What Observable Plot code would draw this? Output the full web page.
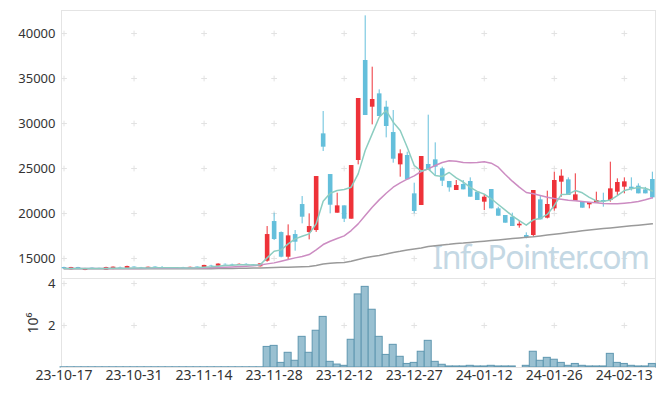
<!DOCTYPE html>
<html><head><meta charset="utf-8">
<script src="https://cdn.jsdelivr.net/npm/d3@7"></script>
<script src="https://cdn.jsdelivr.net/npm/@observablehq/plot@0.6"></script>
<style>
body{margin:0;background:#fff;font-family:"Noto Sans",sans-serif;}
#chart{width:665px;height:396px;}
#chart svg{display:block;overflow:visible;}
</style></head><body><div id="chart"></div>
<script>
// trading-day index ticks and labels
const tickIndex = [0,10,20,30,40,50,60,70,80];
const tickLabels = ["23-10-17","23-10-31","23-11-14","23-11-28","23-12-12","23-12-27","24-01-12","24-01-26","24-02-13"];
const priceTicks = [15000,20000,25000,30000,35000,40000];
const volTicks = [2,4];

const open = [14000,13750,14000,13670,13930,13900,13700,13780,14000,13850,14050,13980,13800,14050,14000,13950,13900,13990,13920,14050,14000,14200,14150,14350,14300,14250,14350,14280,14080,
14701,19109,17886,15145,17664,20998,17886,18109,28850,24331,20035,20850,19368,25887,36999,31813,33295,31813,28998,25407,26444,22185,20888,25444,25963,24963,23555,22555,23222,23555,22370,21259,22666,20518,19777,19592,18629,17555,17556,21519,19482,20519,23482,23741,21371,21260,20963,21149,21445,21445,22371,22926,22926,23037,22630,23778];
const high = [14040,14020,14020,13900,13960,13930,14030,14060,14050,14150,14080,14010,14050,14080,14100,14000,14000,14020,14050,14080,14250,14250,14420,14400,14380,14400,14420,14330,14420,
18553,20035,17950,18738,18108,21887,19961,24109,31332,24331,22257,20850,25331,32776,41962,36258,33739,32480,31443,27074,26815,23370,26333,30926,27852,25148,23555,23666,23666,23963,22370,22111,22666,20700,19777,20037,19148,17851,22556,21998,22482,24593,24853,23963,24408,21260,21223,22371,22260,25704,23853,23963,23963,23297,22900,24593];
const low = [13820,13720,13850,13650,13800,13780,13680,13760,13900,13830,13950,13900,13780,13950,13900,13880,13870,13900,13900,13950,13990,14100,14130,14250,14220,14230,14250,14180,14050,
14590,16997,15080,14775,15813,18850,17071,17900,26887,19961,20035,18997,19368,25406,30887,29850,30776,28406,25591,24037,23740,19962,20888,24778,24111,23000,22370,22555,22629,21814,21444,20333,20518,19703,18925,18555,18370,17185,17370,19296,19400,20259,21815,22000,21371,20593,20519,21149,20704,21260,22000,22186,22500,22186,22186,21630];
const close = [13850,14000,13890,13890,13820,13800,14000,14040,13940,14110,13980,13930,14030,13980,13950,13900,13980,13920,14020,13980,14230,14150,14380,14300,14250,14350,14280,14200,14410,
17664,17109,15145,17516,16812,19590,18553,24109,27369,20924,20850,19368,25331,32776,30887,32665,30776,29665,26035,26630,23740,20222,26333,24778,25148,23592,22852,23111,22629,21814,21444,21814,20518,19703,18925,18555,18814,17296,22556,19296,21000,23667,24149,22000,22074,20593,21223,21445,21260,22741,23445,23519,22704,22186,22186,21741];
// volume in units of 10^6
const volume = [0.01,0.01,0.01,0.01,0.01,0.01,0.01,0.01,0.01,0.01,0.01,0.01,0.01,0.01,0.01,0.01,0.01,0.01,0.01,0.01,0.01,0.01,0.01,0.01,0.01,0.01,0.01,0.01,0.01,
0.98,1.03,0.22,0.70,0.32,1.46,0.70,1.75,2.41,0.27,0.14,0.08,1.32,3.48,3.84,2.75,1.46,0.60,1.08,0.51,0.17,0.22,0.75,1.27,0.27,0.13,0.05,0.05,0.05,0.08,0.05,0.05,0.08,0.05,0.05,0.05,0,0.08,0.75,0.32,0.46,0.37,0.22,0.08,0.17,0.08,0.05,0.05,0.05,0.65,0.22,0.17,0.08,0.05,0.05,0.17];
const ma5 = [13900,13900,13900,13900,13900,13900,13900,13910,13920,13930,13950,13960,13960,13970,13980,13980,13970,13960,13960,13970,14030,14080,14150,14230,14260,14300,14310,14280,14300,
15070,15813,15961,16627,17183,17479,17738,18850,21368,22257,22554,22664,22924,24406,26999,28850,30702,31443,30147,29221,27370,25333,24704,24963,24222,24111,24560,23950,23500,22900,22450,22150,21640,21000,20380,19750,19200,18700,19300,19450,19900,20900,22100,22150,22550,22300,21800,21400,21350,21500,22000,22550,22750,22900,22800,22500];
const ma20 = [13890,13890,13890,13890,13890,13890,13890,13890,13890,13890,13895,13900,13905,13910,13915,13920,13925,13930,13940,13950,13960,13980,14000,14030,14070,14110,14150,14200,14280,
14405,14516,14701,14886,15071,15220,15442,15961,16553,16923,17219,17516,18108,18850,19775,20701,21516,22257,22924,23400,23815,24185,24667,24963,25333,25666,25852,25815,25666,25629,25666,25741,25592,25148,24333,23592,22926,22334,22186,22000,21815,21667,21593,21482,21408,21334,21260,21186,21112,21075,21075,21149,21223,21334,21519,21741];
const ma60 = [13850,13850,13850,13850,13850,13850,13850,13850,13850,13850,13850,13850,13850,13850,13850,13850,13850,13850,13850,13850,13860,13870,13880,13890,13900,13910,13920,13940,13960,
13980,14000,14020,14040,14060,14080,14110,14230,14380,14480,14530,14570,14700,14900,15080,15220,15340,15500,15680,15800,15950,16070,16170,16330,16420,16500,16580,16680,16720,16780,16850,16920,16990,17070,17150,17220,17290,17350,17420,17510,17600,17700,17790,17880,17980,18080,18180,18260,18330,18400,18480,18560,18630,18700,18770,18850];

const UP = "#ee3239", DOWN = "#64bfdb";
const rows = open.map((o, i) => ({i, o, h: high[i], l: low[i], c: close[i], v: volume[i], m5: ma5[i], m20: ma20[i], m60: ma60[i]}));
const XDOM = [-0.36, 84.45];
const FONT = "'Noto Sans', sans-serif";
const style = {fontFamily: FONT, fontSize: "13px", color: "#333", background: "transparent", overflow: "visible"};
const gridPts = (ys) => tickIndex.flatMap(x => ys.map(y => ({x, y})));

const price = Plot.plot({
  width: 665, height: 278, marginLeft: 61, marginRight: 10, marginTop: 10, marginBottom: 0,
  style,
  x: {type: "linear", domain: XDOM, axis: null},
  y: {domain: [12780, 42556], axis: null},
  marks: [
    Plot.frame({stroke: "#e4e4e4"}),
    Plot.axisY({ticks: priceTicks, tickSize: 0, tickPadding: 6, tickFormat: d => String(d), label: null, fontSize: 13, fill: "#333"}),
    Plot.dot(gridPts(priceTicks), {x: "x", y: "y", symbol: "plus", r: 2, stroke: "#e2e2e2", strokeWidth: 1}),
    Plot.text(["InfoPointer.com"], {frameAnchor: "bottom-right", dx: -7, dy: -10, lineAnchor: "bottom", fontSize: 32, fill: "#c4d8e4", fontFamily: FONT, className: "wm"}),
    Plot.ruleX(rows.filter(d => d.c >= d.o), {x: "i", y1: "l", y2: "h", stroke: UP, strokeWidth: 1}),
    Plot.ruleX(rows.filter(d => d.c < d.o), {x: "i", y1: "l", y2: "h", stroke: DOWN, strokeWidth: 1}),
    Plot.ruleX(rows.filter(d => d.c >= d.o), {x: "i", y1: "o", y2: "c", stroke: UP, strokeWidth: 4.6}),
    Plot.ruleX(rows.filter(d => d.c < d.o), {x: "i", y1: "o", y2: "c", stroke: DOWN, strokeWidth: 4.6}),
    Plot.lineY(rows, {x: "i", y: "m60", stroke: "#9a9a9a", strokeWidth: 1.5}),
    Plot.lineY(rows, {x: "i", y: "m20", stroke: "#cc8cc2", strokeWidth: 1.5}),
    Plot.lineY(rows, {x: "i", y: "m5", stroke: "#8ccdc1", strokeWidth: 1.5})
  ]
});

const vol = Plot.plot({
  width: 665, height: 118, marginLeft: 61, marginRight: 10, marginTop: 0, marginBottom: 29,
  style,
  x: {type: "linear", domain: XDOM, axis: null},
  y: {domain: [0, 4.238], axis: null},
  marks: [
    Plot.frame({stroke: "#e4e4e4"}),
    Plot.axisX({ticks: tickIndex, tickSize: 0, tickPadding: 3, tickFormat: i => tickLabels[tickIndex.indexOf(i)], label: null, fontSize: 14, fill: "#333"}),
    Plot.axisY({ticks: volTicks, tickSize: 0, tickPadding: 6, tickFormat: d => String(d), label: null, fontSize: 13, fill: "#333"}),
    Plot.dot(gridPts(volTicks), {x: "x", y: "y", symbol: "plus", r: 2, stroke: "#e2e2e2", strokeWidth: 1}),
    Plot.rectY(rows, {x1: d => d.i - 0.5, x2: d => d.i + 0.5, y: "v", fill: "#99c0d1", stroke: "#5f97b0", strokeWidth: 1, inset: 0}),
    Plot.ruleY([0], {stroke: "#e4e4e4"}),
    Plot.text(["10⁶"], {frameAnchor: "left", dx: -28, rotate: -90, textAnchor: "middle", fontSize: 14, fill: "#333"})
  ]
});

const el = document.getElementById("chart");
el.append(price, vol);
// tighten watermark spacing to the reference width
d3.select(price).selectAll(".wm text").style("letter-spacing", "-1.5px");
</script></body></html>
